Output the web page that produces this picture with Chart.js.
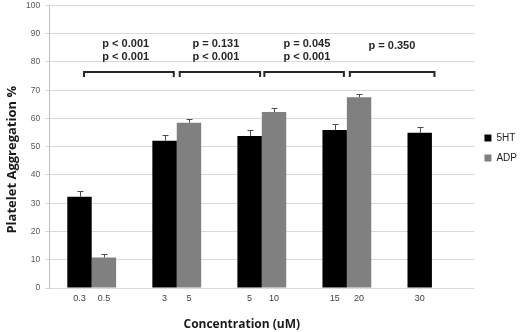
<!DOCTYPE html>
<html><head><meta charset="utf-8">
<script src="https://cdn.jsdelivr.net/npm/chart.js@4.4.1/dist/chart.umd.min.js"></script>
<style>html,body{margin:0;padding:0;background:#fff;}#wrap{width:527px;height:332px;}</style>
</head><body><div id="wrap"><canvas id="c" width="527" height="332"></canvas></div>
<script>
// ---- data ----
const groups = ['1', '2', '3', '4', '5'];
const conc5HT = ['0.3', '3', '5', '15', '30'];
const concADP = ['0.5', '5', '10', '20', ''];
const values5HT = [32.3, 52.1, 53.8, 55.9, 54.9];
const valuesADP = [10.8, 58.5, 62.3, 67.5, null];
const err5HT = [2.1, 2.2, 2.1, 2.1, 2.2];
const errADP = [1.4, 1.3, 1.4, 1.2, null];
const pTop = ['p < 0.001', 'p = 0.131', 'p = 0.045', 'p = 0.350'];
const pBottom = ['p < 0.001', 'p < 0.001', 'p < 0.001', ''];
const bracketFrom = [-0.09, 1.035, 2.03, 3.035];
const bracketTo = [0.965, 1.98, 2.965, 4.03];
const pTextAt = [0.4, 1.46, 2.53, 3.53];
const bracketLevel = 76.3;
const pLine1 = 86.5, pLine2 = 81.9, pSingle = 85.8;
const yMin = 0, yMax = 100, yStep = 10;

const overlay = {
  id: 'overlay',
  afterDatasetsDraw(chart) {
    const ctx = chart.ctx, ys = chart.scales.y, xs = chart.scales.x, ca = chart.chartArea;
    ctx.save();
    // error bars
    const errs = [err5HT, errADP];
    const vals = [values5HT, valuesADP];
    ctx.strokeStyle = '#4d4d4d';
    ctx.lineWidth = 1;
    for (let d = 0; d < 2; d++) {
      const meta = chart.getDatasetMeta(d);
      meta.data.forEach((bar, j) => {
        if (vals[d][j] == null) return;
        const x = Math.round(bar.x) + 0.5;
        const y0 = ys.getPixelForValue(vals[d][j]);
        const y1 = Math.round(ys.getPixelForValue(vals[d][j] + errs[d][j])) + 0.5;
        ctx.beginPath();
        ctx.moveTo(x, y0); ctx.lineTo(x, y1);
        ctx.moveTo(x - 3, y1); ctx.lineTo(x + 3, y1);
        ctx.stroke();
      });
    }
    // x tick labels under each bar
    ctx.fillStyle = '#404040';
    ctx.font = '9px "Liberation Sans", Arial, sans-serif';
    ctx.textAlign = 'center';
    ctx.textBaseline = 'middle';
    const labs = [conc5HT, concADP];
    for (let d = 0; d < 2; d++) {
      chart.getDatasetMeta(d).data.forEach((bar, j) => {
        if (!labs[d][j]) return;
        ctx.fillText(labs[d][j], bar.x, ca.bottom + 11);
      });
    }
    // x title
    ctx.fillStyle = '#1a1a1a';
    ctx.font = 'bold 12px "Open Sans", sans-serif';
    ctx.fillText('Concentration (uM)', (ca.left + ca.right) / 2 - 20, ca.bottom + 37);
    // y title
    ctx.save();
    ctx.translate(12, (ca.top + ca.bottom) / 2 + 13);
    ctx.rotate(-Math.PI / 2);
    ctx.font = 'bold 13px "Open Sans", sans-serif';
    ctx.fillText('Platelet Aggregation %', 0, 0);
    ctx.restore();
    // brackets
    ctx.strokeStyle = '#262626';
    ctx.lineWidth = 2;
    const yb = Math.round(ys.getPixelForValue(bracketLevel));
    const unit = xs.getPixelForValue(1) - xs.getPixelForValue(0);
    const x0 = xs.getPixelForValue(0);
    for (let i = 0; i < bracketFrom.length; i++) {
      const xa = x0 + bracketFrom[i] * unit;
      const xb = x0 + bracketTo[i] * unit;
      ctx.beginPath();
      ctx.moveTo(xa, yb + 5); ctx.lineTo(xa, yb); ctx.lineTo(xb, yb); ctx.lineTo(xb, yb + 5);
      ctx.stroke();
      const xt = x0 + pTextAt[i] * unit;
      ctx.fillStyle = '#262626';
      ctx.font = 'bold 11px "Liberation Sans", Arial, sans-serif';
      if (pBottom[i]) {
        ctx.fillText(pTop[i], xt, ys.getPixelForValue(pLine1));
        ctx.fillText(pBottom[i], xt, ys.getPixelForValue(pLine2));
      } else {
        ctx.fillText(pTop[i], xt, ys.getPixelForValue(pSingle));
      }
    }
    ctx.restore();
  }
};

new Chart(document.getElementById('c'), {
  type: 'bar',
  data: {
    labels: groups,
    datasets: [
      { label: '5HT', data: values5HT, backgroundColor: '#000000', borderWidth: 0,
        categoryPercentage: 0.574, barPercentage: 1.0 },
      { label: 'ADP', data: valuesADP, backgroundColor: '#808080', borderWidth: 0,
        categoryPercentage: 0.574, barPercentage: 1.0 }
    ]
  },
  options: {
    responsive: false,
    animation: false,
    devicePixelRatio: 1,
    layout: { padding: { top: 0, bottom: 36, left: 21, right: 0 } },
    plugins: {
      legend: {
        position: 'right',
        labels: { boxWidth: 7, boxHeight: 7, padding: 10, color: '#222',
          font: { size: 10, family: '"Liberation Sans", Arial, sans-serif' } }
      },
      tooltip: { enabled: false }
    },
    scales: {
      x: {
        grid: { display: false },
        border: { display: false },
        ticks: { display: false }
      },
      y: {
        min: yMin, max: yMax,
        ticks: { stepSize: yStep, padding: 5, color: '#595959',
          font: { size: 8.5, lineHeight: 0.1, family: '"Liberation Sans", Arial, sans-serif' } },
        grid: { color: '#d9d9d9', tickLength: 4 },
        border: { color: '#bfbfbf' }
      }
    }
  },
  plugins: [overlay]
});
</script>
</body></html>
